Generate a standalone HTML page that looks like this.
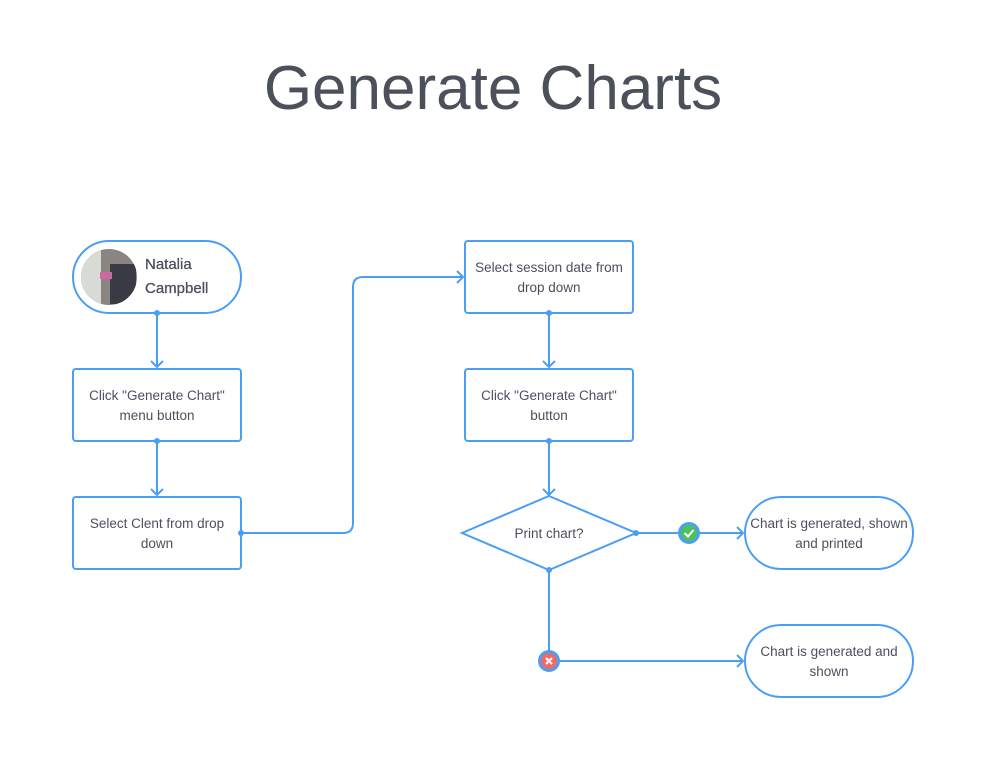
<!DOCTYPE html>
<html><head><style>
body{margin:0;background:#fff;width:986px;height:770px;overflow:hidden}
svg text{font-family:"Liberation Sans",sans-serif}
</style></head><body>
<svg width="986" height="770" viewBox="0 0 986 770" xmlns="http://www.w3.org/2000/svg">
<defs><clipPath id="c"><circle cx="109" cy="277" r="28"/></clipPath></defs>
<text x="493" y="109" font-size="62" fill="#4b505b" text-anchor="middle">Generate Charts</text>
<g fill="none" stroke="#4a9ff5" stroke-width="2">
<rect x="73" y="241" width="168" height="72" rx="36"/>
<rect x="73" y="369" width="168" height="72" rx="3"/>
<rect x="73" y="497" width="168" height="72" rx="3"/>
<rect x="465" y="241" width="168" height="72" rx="3"/>
<rect x="465" y="369" width="168" height="72" rx="3"/>
<path d="M549 496 L636 533 L549 570 L462 533 Z"/>
<rect x="745" y="497" width="168" height="72" rx="36"/>
<rect x="745" y="625" width="168" height="72" rx="36"/>
<path d="M157 313 V367 M151 361 L157 367 L163 361"/>
<path d="M157 441 V495 M151 489 L157 495 L163 489"/>
<path d="M549 313 V367 M543 361 L549 367 L555 361"/>
<path d="M549 441 V495 M543 489 L549 495 L555 489"/>
<path d="M241 533 H343 Q353 533 353 523 V287 Q353 277 363 277 H463 M457 271 L463 277 L457 283"/>
<path d="M636 533 H743 M737 527 L743 533 L737 539"/>
<path d="M549 570 V661 H743 M737 655 L743 661 L737 667"/>
</g>
<g fill="#4a9ff5"><circle cx="157" cy="313" r="3"/><circle cx="157" cy="441" r="3"/><circle cx="241" cy="533" r="3"/><circle cx="549" cy="313" r="3"/><circle cx="549" cy="441" r="3"/><circle cx="636" cy="533" r="3"/><circle cx="549" cy="570" r="3"/></g>
<g clip-path="url(#c)"><rect x="81" y="249" width="56" height="56" fill="#8a8580"/><rect x="81" y="249" width="20" height="56" fill="#d8dad6"/><rect x="110" y="264" width="26" height="40" fill="#3a3a44"/><rect x="100" y="272" width="12" height="7" fill="#c86aa6"/></g>
<text x="145" y="269" font-size="15" fill="#4b505b" stroke="#4b505b" stroke-width="0.3">Natalia</text>
<text x="145" y="293" font-size="15" fill="#4b505b" stroke="#4b505b" stroke-width="0.3">Campbell</text>
<g font-size="13.5" fill="#4b505b" text-anchor="middle">
<text x="157" y="400">Click "Generate Chart"</text><text x="157" y="420">menu button</text>
<text x="157" y="528">Select Clent from drop</text><text x="157" y="548">down</text>
<text x="549" y="272">Select session date from</text><text x="549" y="292">drop down</text>
<text x="549" y="400">Click "Generate Chart"</text><text x="549" y="420">button</text>
<text x="549" y="538">Print chart?</text>
<text x="829" y="528">Chart is generated, shown</text><text x="829" y="548">and printed</text>
<text x="829" y="656">Chart is generated and</text><text x="829" y="676">shown</text>
</g>
<circle cx="689" cy="533" r="11" fill="#4a9ff5"/><circle cx="689" cy="533" r="8" fill="#4cc35a"/>
<path d="M684.5 533 L688 536.5 L693.5 530" stroke="#fff" stroke-width="2" fill="none"/>
<circle cx="549" cy="661" r="11" fill="#4a9ff5"/><circle cx="549" cy="661" r="8" fill="#f06a6a"/>
<path d="M546 658 L552 664 M552 658 L546 664" stroke="#fff" stroke-width="2"/>
</svg>
</body></html>
